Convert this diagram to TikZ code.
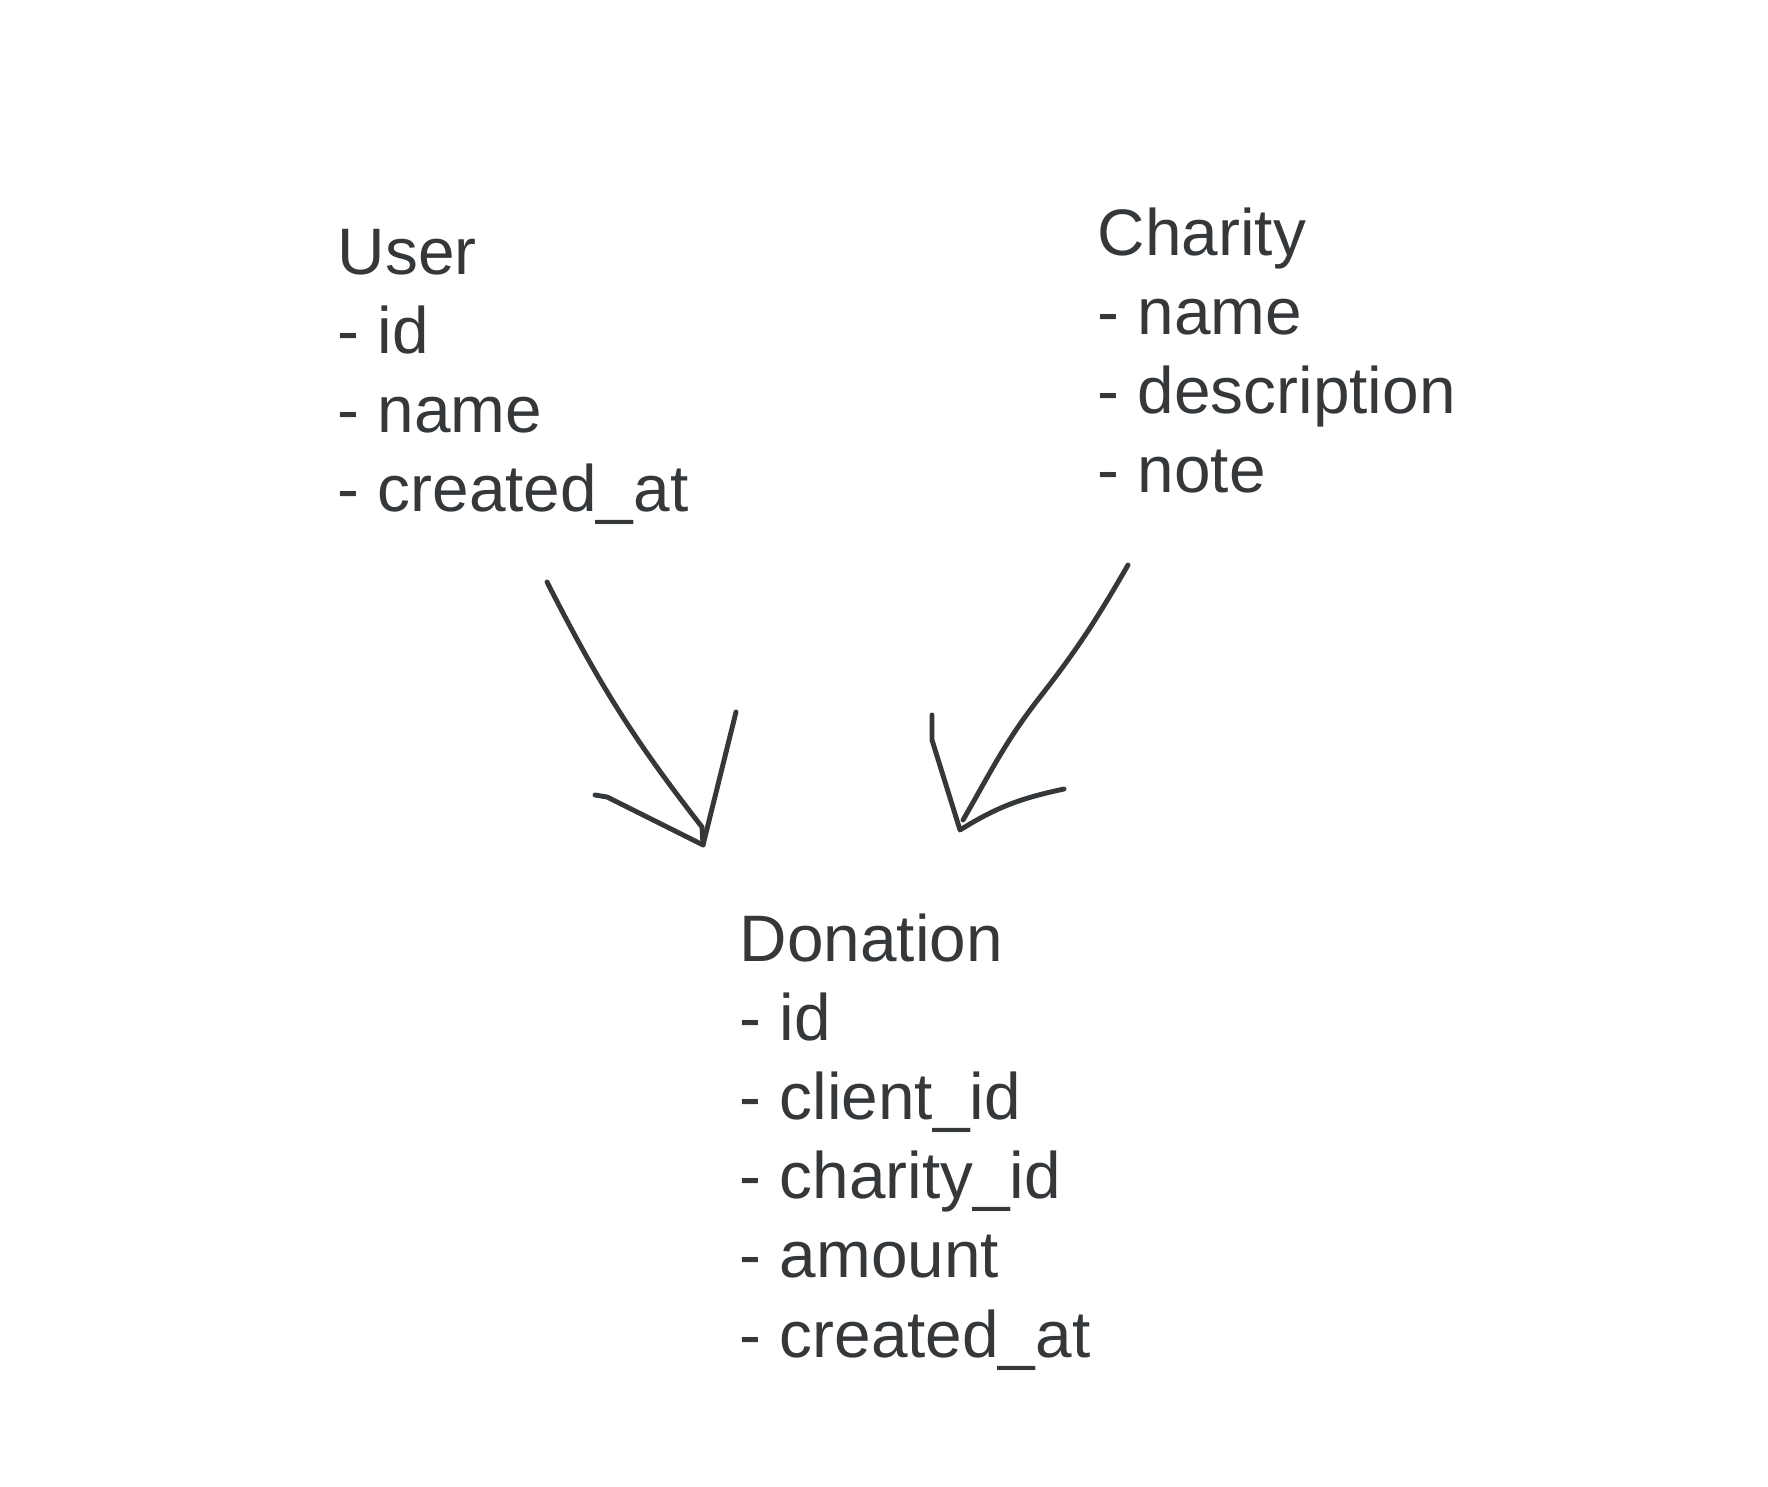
\documentclass[tikz,border=0pt]{standalone}
\usepackage{fontspec}
\setmainfont{Liberation Sans}
\usepackage{tikz}
\usetikzlibrary{positioning, calc}
\definecolor{ink}{HTML}{35383B}

\begin{document}
\begin{tikzpicture}[
  entity/.style={align=left, inner sep=0pt, anchor=base west, text=ink, font=\fontsize{18.7}{22.5}\selectfont},
  sketch/.style={draw=ink, line width=1.4pt, line cap=round, line join=round}
]
\useasboundingbox (0,0) rectangle (17.68,14.86);

\node[entity] (user) at (3.37,9.74) {User\\- id\\- name\\- created\_at};
\node[entity] (charity) at (10.97,9.93) {Charity\\- name\\- description\\- note};
\node[entity] (donation) at (7.39,1.29) {Donation\\- id\\- client\_id\\- charity\_id\\- amount\\- created\_at};

\coordinate (userTail) at (5.47,9.04);
\coordinate (userEnd) at (7.02,6.59);
\coordinate (userTip) at (7.03,6.41);
\coordinate (userBarbL) at (5.95,6.91);
\coordinate (userBarbR) at (7.36,7.74);

\coordinate (charityTail) at (11.28,9.21);
\coordinate (charityBend) at (10.40,7.89);
\coordinate (charityEnd) at (9.63,6.66);
\coordinate (charityTip) at (9.60,6.56);
\coordinate (charityBarbL) at (9.32,7.71);
\coordinate (charityBarbR) at (10.64,6.97);

\draw[sketch] (userTail) to[out=-63, in=128] (userEnd) -- (userTip);
\draw[sketch] (userBarbL) -- ++(0.12,-0.02) -- (userTip) -- (userBarbR);

\draw[sketch] (charityTail) to[out=-120, in=52] (charityBend) to[out=-128, in=60] (charityEnd);
\draw[sketch] (charityBarbL) -- ++(0,-0.25) -- (charityTip) to[out=32, in=192] (charityBarbR);

\end{tikzpicture}
\end{document}
